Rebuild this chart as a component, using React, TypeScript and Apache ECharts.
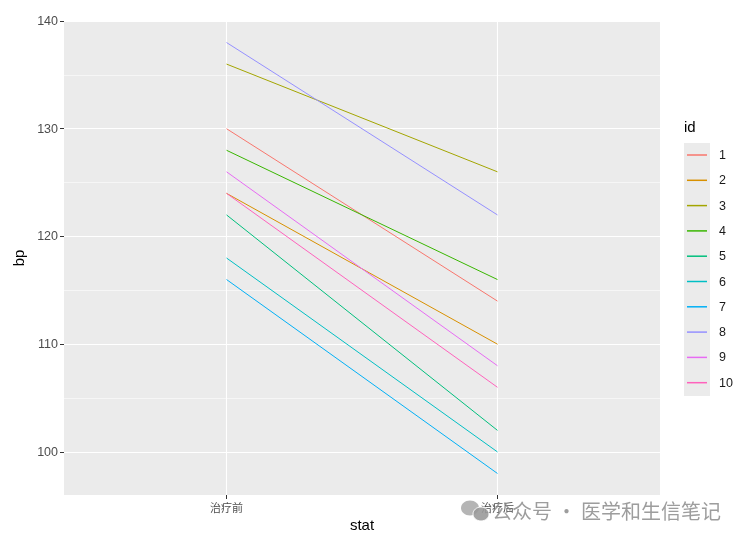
import React, { useEffect, useRef } from "react";
import * as echarts from "echarts";

const categories = ["治疗前", "治疗后"];
const ids = ["1", "2", "3", "4", "5", "6", "7", "8", "9", "10"];
const before = [130, 124, 136, 128, 122, 118, 116, 138, 126, 124];
const after = [114, 110, 126, 116, 102, 100, 98, 122, 108, 106];
const colors = [
  "#F8766D", "#D89000", "#A3A500", "#39B600", "#00BF7D",
  "#00BFC4", "#00B0F6", "#9590FF", "#E76BF3", "#FF62BC",
];
const yTicks = [100, 110, 120, 130, 140];
const yMinor = [105, 115, 125, 135];
const watermark = "公众号 · 医学和生信笔记";

const FONT = "'Liberation Sans', Arial, 'Noto Sans CJK SC', sans-serif";

export default function App() {
  const ref = useRef<HTMLDivElement>(null);
  useEffect(() => {
    if (!ref.current) return;
    const chart = echarts.init(ref.current, null, { renderer: "svg" });
    const catPos = categories.map((_, i) => i + 1);

    const lineSeries = ids.map((id, i) => ({
      name: id,
      type: "line",
      z: 10,
      data: [
        [catPos[0], before[i]],
        [catPos[1], after[i]],
      ],
      showSymbol: false,
      symbol: "none",
      color: colors[i],
      lineStyle: { color: colors[i], width: 1 },
      itemStyle: { color: colors[i] },
      silent: true,
    }));

    const gridSeries = {
      name: "_grid",
      type: "line",
      z: 1,
      data: [[catPos[0], yTicks[0]]],
      showSymbol: false,
      symbol: "none",
      color: "#FFFFFF",
      lineStyle: { opacity: 0 },
      silent: true,
      markLine: {
        z: 1,
        silent: true,
        symbol: "none",
        label: { show: false },
        animation: false,
        lineStyle: { color: "#FFFFFF", type: "solid" },
        data: [
          ...yMinor.map((v) => ({ yAxis: v, lineStyle: { width: 0.55, color: "#FFFFFF", type: "solid" } })),
          ...yTicks.map((v) => ({ yAxis: v, lineStyle: { width: 1.1, color: "#FFFFFF", type: "solid" } })),
          ...catPos.map((v) => ({ xAxis: v, lineStyle: { width: 1.1, color: "#FFFFFF", type: "solid" } })),
        ],
      },
    };

    chart.setOption({
      animation: false,
      color: colors,
      textStyle: { fontFamily: FONT },
      grid: {
        left: 64,
        top: 21,
        width: 596,
        height: 474,
        show: true,
        backgroundColor: "#EBEBEB",
        borderWidth: 0,
      },
      xAxis: {
        type: "value",
        min: 0.4,
        max: 2.6,
        name: "stat",
        nameLocation: "middle",
        nameGap: 22,
        nameTextStyle: { color: "#000000", fontSize: 15, fontFamily: FONT },
        axisLine: { show: false },
        splitLine: { show: false },
        axisTick: {
          show: true,
          customValues: catPos,
          length: 4,
          lineStyle: { color: "#333333", width: 1 },
        },
        axisLabel: {
          customValues: catPos,
          formatter: (v: number) => categories[Math.round(v) - 1] ?? "",
          color: "#4D4D4D",
          fontSize: 11,
          margin: 6,
          fontFamily: "'Noto Sans CJK SC', sans-serif",
        },
      },
      yAxis: {
        type: "value",
        min: 96,
        max: 140,
        name: "bp",
        nameLocation: "middle",
        nameGap: 36,
        nameRotate: 90,
        nameTextStyle: { color: "#000000", fontSize: 15, fontFamily: FONT },
        axisLine: { show: false },
        splitLine: { show: false },
        axisTick: {
          show: true,
          customValues: yTicks,
          length: 4,
          lineStyle: { color: "#333333", width: 1 },
        },
        axisLabel: {
          customValues: yTicks,
          color: "#4D4D4D",
          fontSize: 12.5,
          margin: 6,
        },
      },
      legend: {
        data: ids,
        orient: "vertical",
        left: 687,
        top: 148,
        padding: 0,
        itemWidth: 20,
        itemHeight: 1.5,
        itemGap: 11.3,
        icon: "rect",
        selectedMode: false,
        textStyle: {
          color: "#1A1A1A",
          fontSize: 12.5,
          lineHeight: 14,
          padding: [0, 0, 0, 7],
          fontFamily: FONT,
        },
      },
      graphic: [
        {
          type: "rect",
          left: 684,
          top: 143,
          z: -1,
          shape: { width: 26, height: 253 },
          style: { fill: "#EBEBEB" },
          silent: true,
        },
        {
          type: "text",
          left: 684,
          top: 119,
          style: { text: "id", fontSize: 15, fill: "#000000", fontFamily: FONT },
          silent: true,
        },
        {
          type: "ellipse",
          shape: { cx: 470, cy: 508, rx: 9, ry: 7.5 },
          style: { fill: "#A8A8A8", opacity: 0.85 },
          z: 100,
          silent: true,
        },
        {
          type: "ellipse",
          shape: { cx: 481, cy: 514, rx: 8, ry: 7 },
          style: { fill: "#9A9A9A", stroke: "#FFFFFF", lineWidth: 1, opacity: 0.9 },
          z: 100,
          silent: true,
        },
        {
          type: "text",
          left: 492,
          top: 500,
          z: 100,
          style: {
            text: watermark,
            fontSize: 20,
            fill: "#8C8C8C",
            opacity: 0.85,
            fontFamily: "'Noto Sans CJK SC', sans-serif",
          },
          silent: true,
        },
      ],
      series: [...lineSeries, gridSeries],
    });
    return () => chart.dispose();
  }, []);
  return (
    <div
      ref={ref}
      style={{ position: "fixed", left: 0, top: 0, width: 745, height: 542 }}
    />
  );
}
